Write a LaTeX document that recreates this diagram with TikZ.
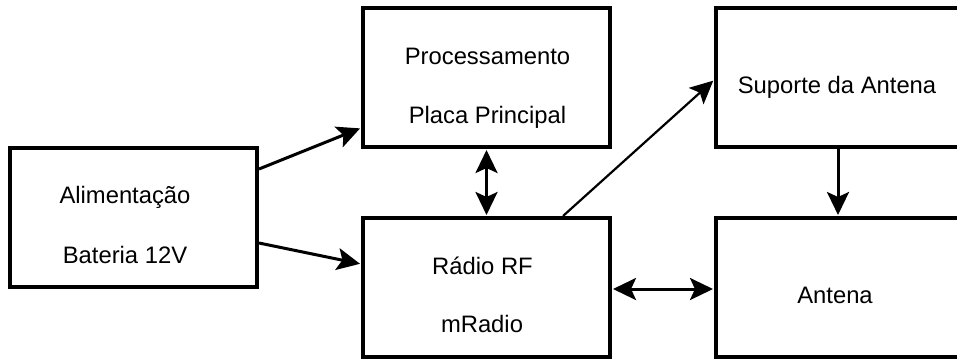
\documentclass[tikz,border=0pt]{standalone}
\usepackage{fontspec}
\setmainfont{Liberation Sans}
\usetikzlibrary{arrows.meta,calc}
\begin{document}
\begin{tikzpicture}[x=1pt,y=-1pt,
  box/.style={draw=black,line width=4pt,rectangle,inner sep=0pt,minimum width=247pt,minimum height=139pt},
  lbl/.style={anchor=base,inner sep=0pt,font=\fontsize{23.8pt}{28pt}\selectfont},
  arr/.style={line width=3pt,-{Stealth[length=23pt,width=22pt,inset=5pt]},shorten >=1pt},
  darr/.style={line width=3pt,{Stealth[length=23pt,width=22pt,inset=5pt]}-{Stealth[length=23pt,width=22pt,inset=5pt]},shorten >=1pt,shorten <=1pt},
  thin/.style={line width=2.2pt,-{Stealth[length=23pt,width=22pt,inset=5pt]},shorten >=1pt}]
\useasboundingbox (0,0) rectangle (957,360);
\fill[white] (0,0) rectangle (957,360);
% boxes
\node[box] (alim) at (133.5,217.5) {};
\node[box] (proc) at (486.5,77.5) {};
\node[box] (radio) at (486.5,287.5) {};
\node[box,minimum width=244pt] (sup) at (838,77.5) {};
\node[box,minimum width=244pt] (ant) at (838,287.5) {};
% labels
\node[lbl] (t1) at (125,203) {Alimentação};
\node[lbl] (t2) at (125,263) {Bateria 12V};
\node[lbl] (t3) at (487.5,64) {Processamento};
\node[lbl] (t4) at (487.5,123) {Placa Principal};
\node[lbl] (t5) at (482.5,274) {Rádio RF};
\node[lbl] (t6) at (482,332) {mRadio};
\node[lbl] (t7) at (837,93) {Suporte da Antena};
\node[lbl] (t8) at (835,303) {Antena};
% connectors
\draw[arr] ([yshift=48.5pt]alim.east) -- ([yshift=-50.5pt]proc.west);
\draw[arr] ([yshift=-25.5pt]alim.east) -- ([yshift=23.5pt]radio.west);
\draw[darr] (proc.south) -- (radio.north);
\draw[thin] ([xshift=76.5pt]radio.north) -- ([yshift=-2.5pt]sup.west);
\draw[arr] (sup.south) -- (ant.north);
\draw[darr] ([yshift=-1.5pt]radio.east) -- ([yshift=-1.5pt]ant.west);
\end{tikzpicture}
\end{document}
